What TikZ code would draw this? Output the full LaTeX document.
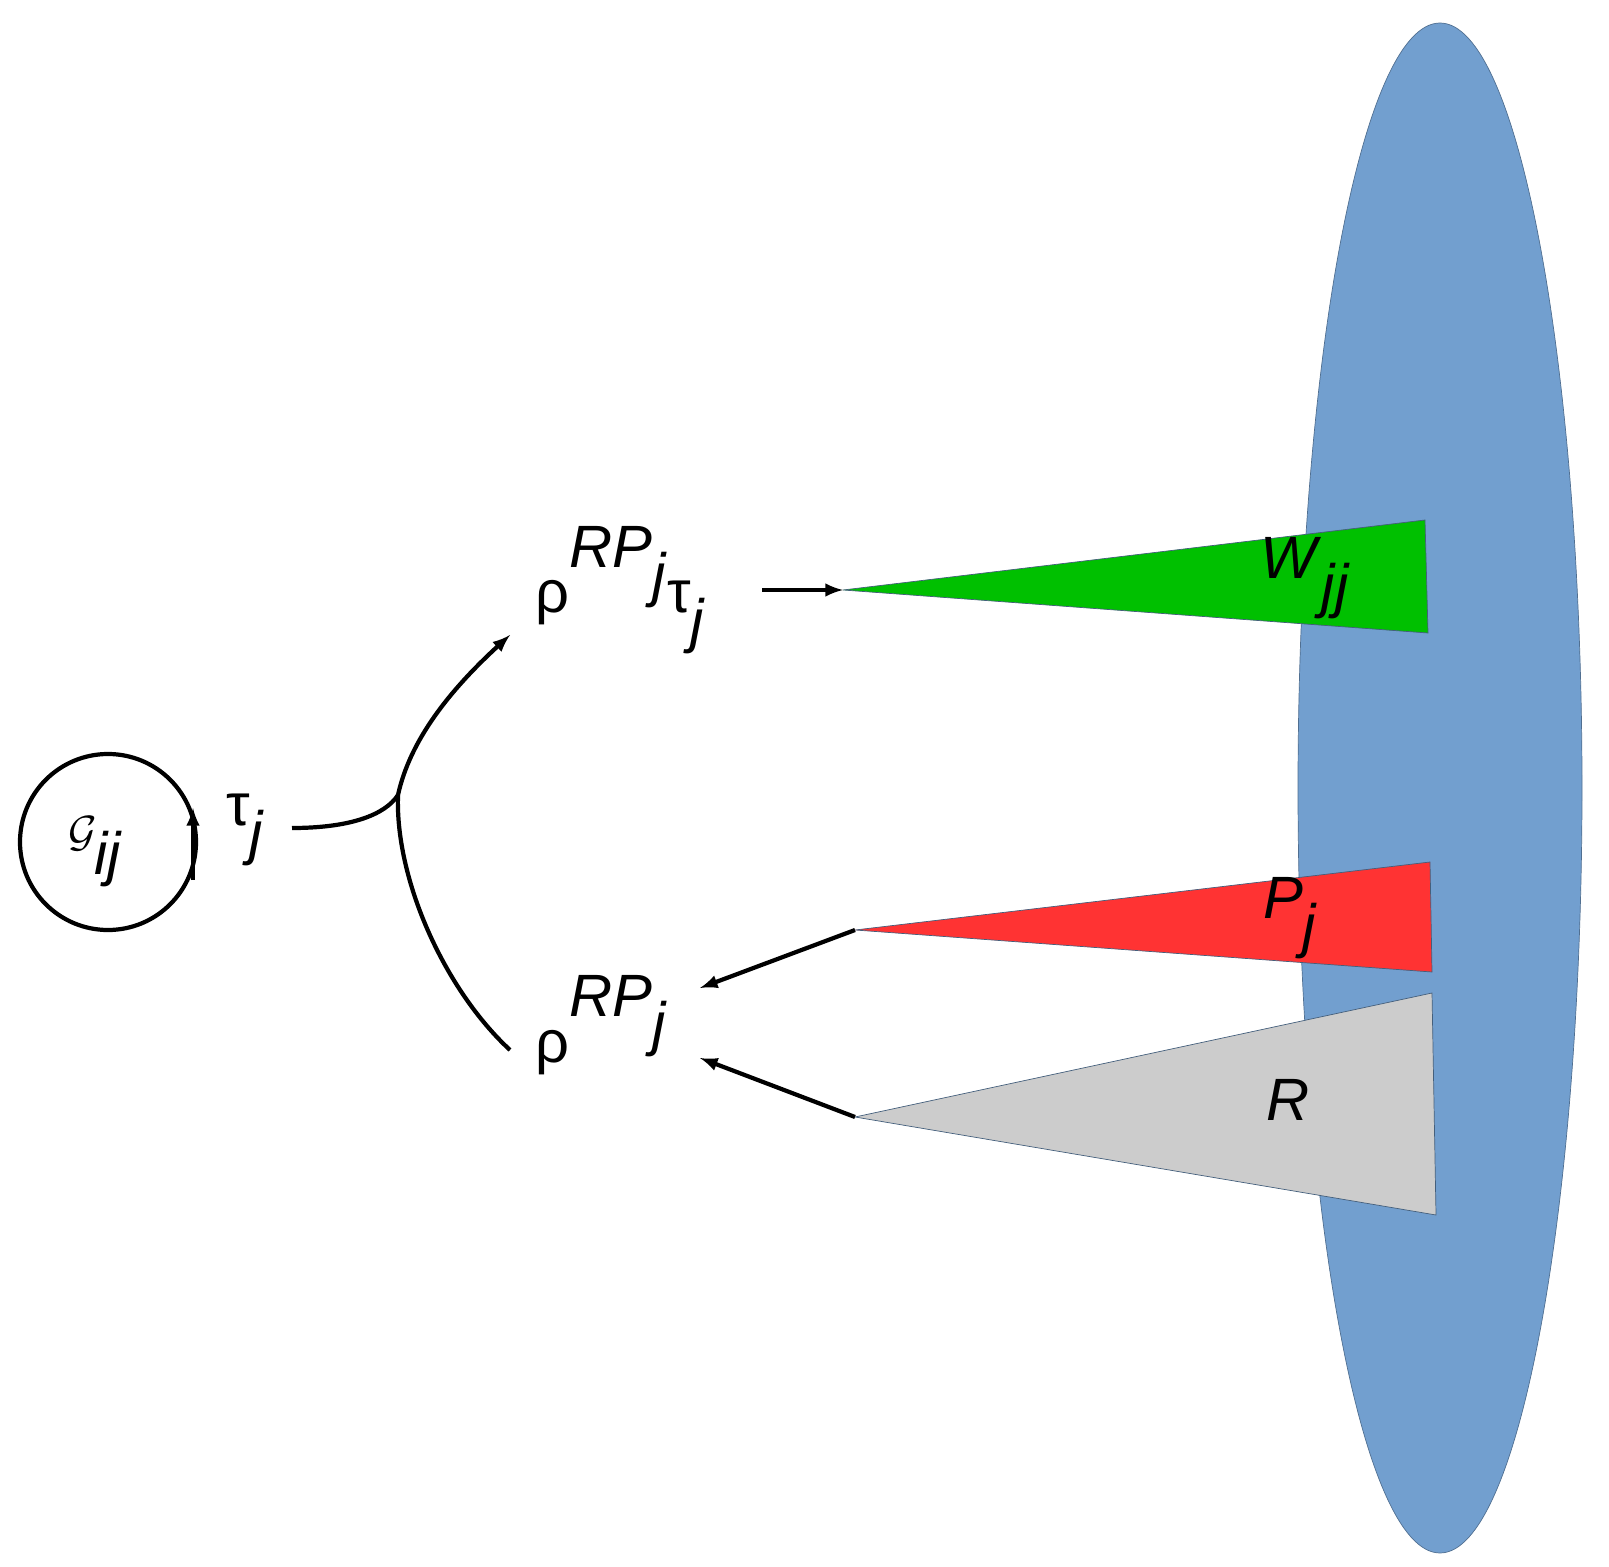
\documentclass[tikz,border=0pt]{standalone}
\usepackage{fontspec}
\setmainfont{Liberation Sans}
\usetikzlibrary{arrows,shapes,positioning}
\definecolor{blob}{RGB}{114,159,207}
\definecolor{leaf}{RGB}{0,192,0}
\definecolor{warn}{RGB}{255,51,51}
\begin{document}
\begin{tikzpicture}[x=0.02cm,y=-0.02cm,
            every node/.style={font=\fontsize{34}{40}\selectfont, inner sep=0pt},
            to/.style={-latex,line width=2.4pt},
            wedge/.style={draw=blob!60!black,thin}
  ]
  \useasboundingbox (0,0) rectangle (1609,1567);

  \node[ellipse,fill=blob,draw=blob!70!black,minimum width=284\pgflinewidth,
        minimum height=0pt] (sea) at (1440,788) {};
  \fill[blob,draw=blob!70!black] (1440,788) ellipse (142 and 765);

  \coordinate (wtip) at (843,590);
  \coordinate (ptip) at (855,930);
  \coordinate (rtip) at (855,1117);
  \filldraw[wedge,fill=leaf] (wtip) -- (1425,520) -- (1428,633) -- cycle;
  \filldraw[wedge,fill=warn] (ptip) -- (1430,862) -- (1432,972) -- cycle;
  \filldraw[wedge,fill=black!20] (rtip) -- (1432,993) -- (1436,1215) -- cycle;
  \node (wjj) at (1305,578) {\textit{W}$_{\textit{jj}}$};
  \node (pj) at (1290,918) {\textit{P}$_{\textit{j}}$};
  \node (r) at (1288,1100) {\textit{R}};

  \draw[line width=2.4pt] (108,842) circle (88);
  \draw[to] (193,880) -- (193,808);
  \node (g) at (95,852) {$\mathcal{G}_{\textit{ij}}$};
  \node (tau) at (245,830) {τ$_{\textit{j}}$};
  \node[anchor=west] (up) at (535,590) {ρ$^{\textit{RP}_{\textit{j}}}$τ$_{\textit{j}}$};
  \node[anchor=west] (down) at (535,1025) {ρ$^{\textit{RP}_{\textit{j}}}$};

  \draw[line width=2.4pt] (292,828) .. controls (350,828) and (385,815) .. (398,795);
  \draw[to] (398,795) .. controls (410,740) and (450,690) .. (510,635);
  \draw[line width=2.4pt] (398,795) .. controls (395,880) and (445,990) .. (510,1050);
  \draw[to] (762,590) -- (wtip);
  \draw[to] (ptip) -- (700,988);
  \draw[to] (rtip) -- (700,1058);
\end{tikzpicture}
\end{document}
